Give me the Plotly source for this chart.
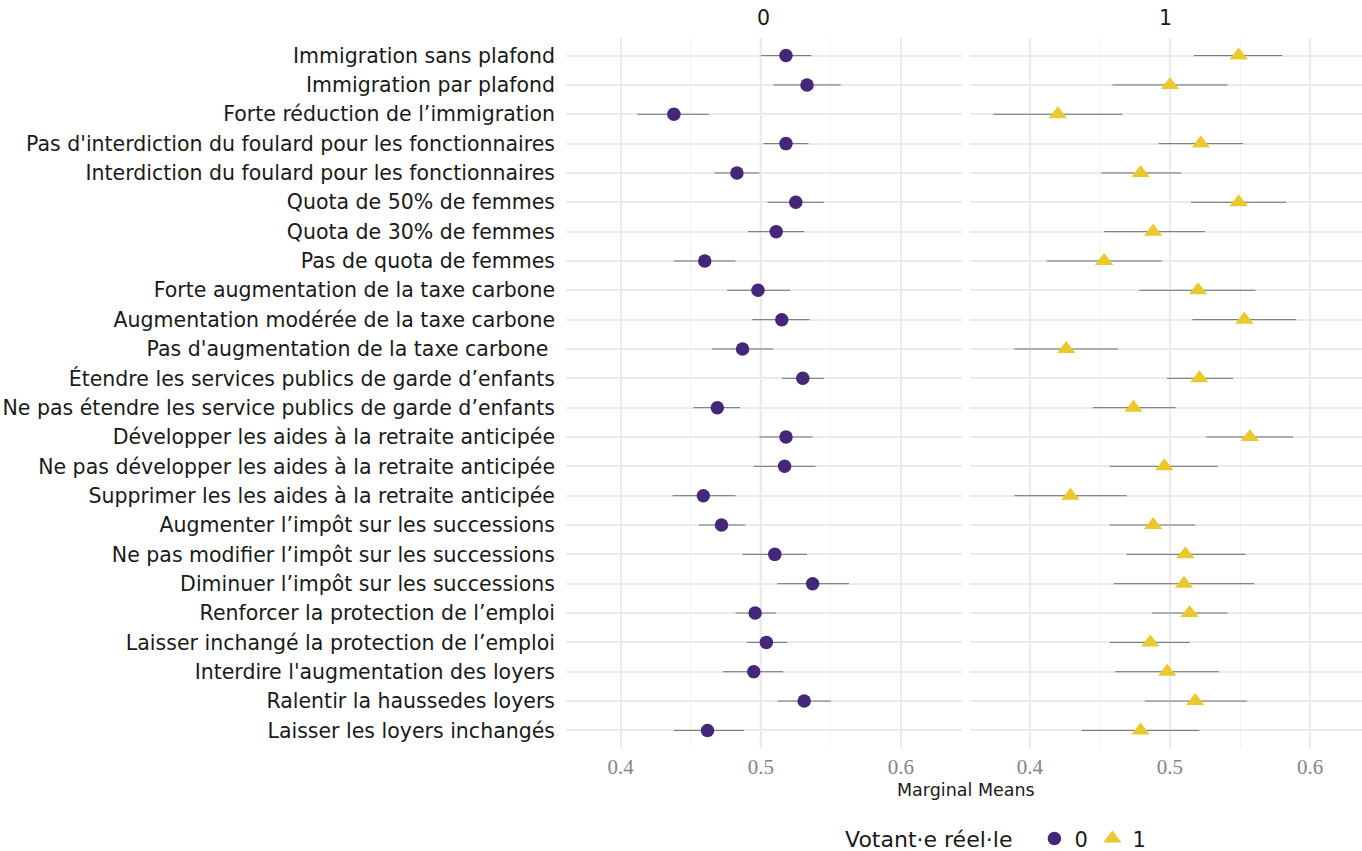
import plotly.graph_objects as go

# Attribute levels (top to bottom)
labels = [
    "Immigration sans plafond",
    "Immigration par plafond",
    "Forte réduction de l’immigration",
    "Pas d'interdiction du foulard pour les fonctionnaires",
    "Interdiction du foulard pour les fonctionnaires",
    "Quota de 50% de femmes",
    "Quota de 30% de femmes",
    "Pas de quota de femmes",
    "Forte augmentation de la taxe carbone",
    "Augmentation modérée de la taxe carbone",
    "Pas d'augmentation de la taxe carbone\u00a0",
    "Étendre les services publics de garde d’enfants",
    "Ne pas étendre les service publics de garde d’enfants",
    "Développer les aides à la retraite anticipée",
    "Ne pas développer les aides à la retraite anticipée",
    "Supprimer les les aides à la retraite anticipée",
    "Augmenter l’impôt sur les successions",
    "Ne pas modifier l’impôt sur les successions",
    "Diminuer l’impôt sur les successions",
    "Renforcer la protection de l’emploi",
    "Laisser inchangé la protection de l’emploi",
    "Interdire l'augmentation des loyers",
    "Ralentir la haussedes loyers",
    "Laisser les loyers inchangés",
]

# Group 0: marginal means with 95% bounds
mm_0 = [0.518, 0.533, 0.438, 0.518, 0.483, 0.525, 0.511, 0.460, 0.498, 0.515, 0.487, 0.530,
        0.469, 0.518, 0.517, 0.459, 0.472, 0.510, 0.537, 0.496, 0.504, 0.495, 0.531, 0.462]
lo_0 = [0.500, 0.509, 0.412, 0.502, 0.467, 0.505, 0.491, 0.438, 0.476, 0.494, 0.465, 0.515,
        0.452, 0.499, 0.495, 0.437, 0.456, 0.487, 0.512, 0.482, 0.490, 0.473, 0.512, 0.438]
hi_0 = [0.536, 0.557, 0.463, 0.534, 0.499, 0.545, 0.531, 0.482, 0.521, 0.535, 0.509, 0.545,
        0.485, 0.537, 0.539, 0.482, 0.489, 0.533, 0.563, 0.511, 0.519, 0.516, 0.550, 0.488]

# Group 1: marginal means with 95% bounds
mm_1 = [0.549, 0.500, 0.420, 0.522, 0.479, 0.549, 0.488, 0.453, 0.520, 0.553, 0.426, 0.521,
        0.474, 0.557, 0.496, 0.429, 0.488, 0.511, 0.510, 0.514, 0.486, 0.498, 0.518, 0.479]
lo_1 = [0.517, 0.459, 0.374, 0.492, 0.451, 0.515, 0.453, 0.412, 0.478, 0.516, 0.389, 0.498,
        0.445, 0.526, 0.457, 0.389, 0.457, 0.469, 0.460, 0.487, 0.457, 0.461, 0.482, 0.437]
hi_1 = [0.580, 0.541, 0.466, 0.552, 0.508, 0.583, 0.525, 0.494, 0.561, 0.590, 0.463, 0.545,
        0.504, 0.588, 0.534, 0.469, 0.518, 0.554, 0.560, 0.541, 0.514, 0.535, 0.555, 0.521]

x_ticks = [0.4, 0.5, 0.6]
x_tick_text = ["0.4", "0.5", "0.6"]

PURPLE = "#45277A"
YELLOW = "#E9C92C"
ERR = "rgba(90,90,90,0.85)"
GRID = "#EBEBEB"
SANS = "DejaVu Sans"
SERIF = "Liberation Serif, Times New Roman, serif"
INK = "#1a1a1a"


def err(mm, lo, hi):
    return dict(type="data", symmetric=False,
                array=[h - m for m, h in zip(mm, hi)],
                arrayminus=[m - l for m, l in zip(mm, lo)],
                color=ERR, thickness=1, width=0)


fig = go.Figure()
fig.add_trace(go.Scatter(
    x=mm_0, y=labels, mode="markers", name="0",
    marker=dict(symbol="circle", size=13.5, color=PURPLE),
    error_x=err(mm_0, lo_0, hi_0), xaxis="x", yaxis="y",
))
fig.add_trace(go.Scatter(
    x=mm_1, y=labels, mode="markers", name="1",
    marker=dict(symbol="triangle-up", size=16, color=YELLOW),
    error_x=err(mm_1, lo_1, hi_1), xaxis="x2", yaxis="y2",
))

xcommon = dict(
    tickvals=x_ticks, ticktext=x_tick_text, showgrid=True, gridcolor=GRID, gridwidth=1.6,
    zeroline=False, showline=False, ticks="",
    tickfont=dict(family=SERIF, size=21, color="#858585"),
    ticklabelstandoff=4,
    minor=dict(tickvals=[0.45, 0.55], showgrid=True, gridcolor="#F3F3F3", gridwidth=1),
)
ycommon = dict(
    type="category", categoryorder="array", categoryarray=labels,
    range=[len(labels) - 0.4, -0.6], showgrid=True, gridcolor=GRID, gridwidth=1.6,
    zeroline=False, showline=False, ticks="",
)

fig.update_layout(
    width=1362, height=851,
    margin=dict(l=566, r=0, t=38, b=103, autoexpand=False),
    paper_bgcolor="white", plot_bgcolor="white",
    xaxis=dict(domain=[0, 0.4971], range=[0.361, 0.6434], **xcommon),
    xaxis2=dict(domain=[0.5075, 1.0], range=[0.3573, 0.637], **xcommon),
    yaxis=dict(anchor="x", tickfont=dict(family=SANS, size=20.5, color=INK),
               ticklabelstandoff=10, **ycommon),
    yaxis2=dict(anchor="x2", showticklabels=False, **ycommon),
    showlegend=True,
    legend=dict(
        orientation="h", x=0.5415, xanchor="center", y=-0.128, yanchor="middle",
        title=dict(text="Votant·e réel·le\u00a0\u00a0",
                   font=dict(family=SANS, size=22, color=INK)),
        font=dict(family=SANS, size=21, color=INK),
        itemsizing="trace", entrywidth=13,
    ),
    shapes=[
        dict(type="line", xref="x", yref="y domain", x0=0.5, x1=0.5, y0=0, y1=1,
             line=dict(color="#CFCFCF", width=1.8), layer="below"),
        dict(type="line", xref="x2", yref="y2 domain", x0=0.5, x1=0.5, y0=0, y1=1,
             line=dict(color="#CFCFCF", width=1.8), layer="below"),
    ],
    annotations=[
        dict(text="0", xref="x domain", yref="paper", x=0.5, y=1.028, yanchor="middle",
             showarrow=False, font=dict(family=SANS, size=20.5, color=INK)),
        dict(text="1", xref="x2 domain", yref="paper", x=0.5, y=1.028, yanchor="middle",
             showarrow=False, font=dict(family=SANS, size=20.5, color=INK)),
        dict(text="Marginal Means", xref="paper", yref="paper", x=0.503, y=-0.059,
             yanchor="middle", showarrow=False,
             font=dict(family=SANS, size=17.5, color=INK)),
    ],
)

fig.write_html("out.html")
